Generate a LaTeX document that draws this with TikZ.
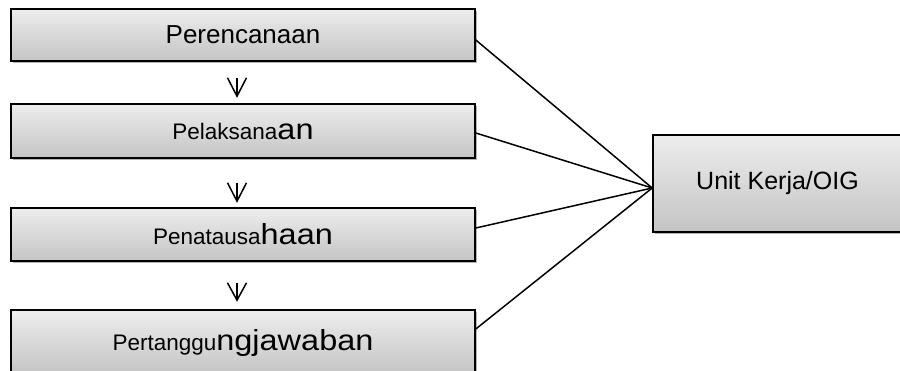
\documentclass[tikz,border=0pt]{standalone}
\usepackage{fontspec}
\setmainfont{Liberation Sans}
\usetikzlibrary{shadows}
\definecolor{boxtop}{HTML}{EDEDED}
\definecolor{boxbot}{HTML}{C4C4C4}
\tikzset{
  box/.style={draw=black, line width=0.8pt, top color=boxtop, bottom color=boxbot,
    inner sep=0pt, drop shadow={shadow xshift=1.2pt, shadow yshift=-1.2pt, opacity=0.3, fill=black}},
  flow/.style={line width=0.75pt, line join=miter},
  link/.style={line width=0.75pt},
  bigtxt/.style={font=\fontsize{13pt}{15pt}\selectfont},
}
\newcommand{\sm}[1]{{\fontsize{11.25pt}{13pt}\selectfont #1}}
\newcommand{\bg}[1]{{\fontsize{14.5pt}{16pt}\selectfont\scalebox{1.12}[1]{#1}}}
\begin{document}
\begin{tikzpicture}[x=0.5pt,y=-0.5pt]
\useasboundingbox (0,0) rectangle (900,370);
\clip (0,0) rectangle (900,370);
\node[box, bigtxt, minimum width=232pt, minimum height=26pt] (b1) at (243,35) {Perencanaan};
\node[box, minimum width=232pt, minimum height=27pt] (b2) at (243,131) {\sm{Pelaksana}\bg{an}};
\node[box, minimum width=232pt, minimum height=26.5pt] (b3) at (243,234.5) {\sm{Penatausa}\bg{haan}};
\node[box, minimum width=232pt, minimum height=32.5pt] (b4) at (243,342.5) {\raisebox{1pt}{\sm{Pertanggu}\bg{ngjawaban}}};
\node[box, font=\fontsize{12.5pt}{15pt}\selectfont, minimum width=124.5pt, minimum height=48.5pt] (u) at (777.5,183.5) {Unit Kerja/OIG};
% flow arrows between the left boxes
\coordinate (s1) at ([xshift=-3pt,yshift=-8pt]b1.south);
\coordinate (e1) at ([xshift=-3pt,yshift=3.5pt]b2.north);
\coordinate (s2) at ([xshift=-3pt,yshift=-12pt]b2.south);
\coordinate (e2) at ([xshift=-3pt,yshift=3pt]b3.north);
\coordinate (s3) at ([xshift=-3pt,yshift=-10.5pt]b3.south);
\coordinate (e3) at ([xshift=-3pt,yshift=4.5pt]b4.north);
\foreach \i in {1,2,3}{
  \draw[flow] (s\i) -- (e\i);
  \draw[flow] ([xshift=-4.75pt]s\i) -- (e\i) -- ([xshift=4.75pt]s\i);
}
\coordinate (hub) at ([yshift=-2.25pt]u.west);
\draw[link] ([yshift=-2.5pt]b1.east) -- (hub);
\draw[link] ([yshift=-1pt]b2.east) -- (hub);
\draw[link] ([yshift=3.25pt]b3.east) -- (hub);
\draw[link] ([yshift=6.75pt]b4.east) -- (hub);
\end{tikzpicture}
\end{document}
